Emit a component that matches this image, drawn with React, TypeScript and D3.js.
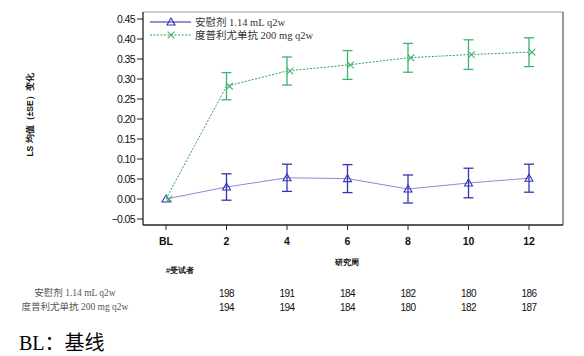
import React from "react";
import * as d3 from "d3";

const categories = ["BL", "2", "4", "6", "8", "10", "12"];
const placeboMean = [0, 0.03, 0.053, 0.051, 0.025, 0.04, 0.052];
const placeboSE = [0, 0.033, 0.034, 0.035, 0.035, 0.037, 0.035];
const dupiMean = [0, 0.282, 0.32, 0.335, 0.353, 0.361, 0.367];
const dupiSE = [0, 0.034, 0.035, 0.036, 0.036, 0.037, 0.036];
const yTicks = [-0.05, 0, 0.05, 0.1, 0.15, 0.2, 0.25, 0.3, 0.35, 0.4, 0.45];
const seriesNames = ["安慰剂 1.14 mL q2w", "度普利尤单抗 200 mg q2w"];
const placeboN = [198, 191, 184, 182, 180, 186];
const dupiN = [194, 194, 184, 180, 182, 187];
const nWeeks = ["2", "4", "6", "8", "10", "12"];

const BLUE = "#3434b4";
const BLUE_LINE = "#8a8ad6";
const GREEN = "#3cb46e";
const GREEN_LINE = "#2aa060";
const SANS = "Liberation Sans, Arial, sans-serif";
const SERIF = "Liberation Serif, 'Noto Sans CJK SC', serif";

function Tri({ x, y }: { x: number; y: number }) {
  const s = 4;
  return (
    <path
      d={`M${x},${y - s} L${x + s},${y + s * 0.75} L${x - s},${y + s * 0.75} Z`}
      fill="none"
      stroke={BLUE}
      strokeWidth={1.1}
    />
  );
}
function Cross({ x, y }: { x: number; y: number }) {
  const s = 3.3;
  return (
    <path
      d={`M${x - s},${y - s} L${x + s},${y + s} M${x - s},${y + s} L${x + s},${y - s}`}
      stroke={GREEN}
      strokeWidth={1.1}
    />
  );
}

export default function App() {
  const left = 143, right = 563, top = 12, bottom = 225;
  const x = d3.scalePoint<string>().domain(categories).range([166, 529]);
  const y = d3.scaleLinear().domain([-0.05, 0.45]).range([219, 19]);
  const fmt = d3.format(".2f");

  const line = d3
    .line<number>()
    .x((_, i) => x(categories[i])!)
    .y((d) => y(d));

  const errBars = (means: number[], se: number[], color: string) =>
    means.map((m, i) => {
      if (se[i] === 0) return null;
      const cx = x(categories[i])!;
      const y1 = y(m + se[i]);
      const y2 = y(m - se[i]);
      return (
        <g key={i} stroke={color} strokeWidth={1.3}>
          <line x1={cx} x2={cx} y1={y1} y2={y2} />
          <line x1={cx - 5} x2={cx + 5} y1={y1} y2={y1} />
          <line x1={cx - 5} x2={cx + 5} y1={y2} y2={y2} />
        </g>
      );
    });

  return (
    <svg
      width={584}
      height={356}
      style={{ position: "absolute", left: 0, top: 0, background: "#fff" }}
    >
      {/* frame */}
      <line x1={left} x2={right} y1={top} y2={top} stroke="#999" strokeWidth={1} />
      <line x1={right} x2={right} y1={top} y2={bottom} stroke="#777" strokeWidth={1.5} />
      <line x1={left} x2={left} y1={top} y2={bottom} stroke="#222" strokeWidth={1.3} />
      <line x1={left} x2={right} y1={bottom} y2={bottom} stroke="#222" strokeWidth={1.3} />

      {/* y ticks */}
      {yTicks.map((t) => (
        <g key={t}>
          <line x1={left - 6} x2={left} y1={y(t)} y2={y(t)} stroke="#222" strokeWidth={1} />
          <text
            x={left - 8}
            y={y(t)}
            dy="0.35em"
            textAnchor="end"
            fontFamily={SANS}
            fontSize={10.5}
            letterSpacing={-0.6}
            fill="#111"
          >
            {fmt(t)}
          </text>
        </g>
      ))}

      {/* x ticks */}
      {categories.map((c) => (
        <g key={c}>
          <line x1={x(c)!} x2={x(c)!} y1={bottom} y2={bottom + 5} stroke="#222" strokeWidth={1} />
          <text
            x={x(c)!}
            y={245}
            textAnchor="middle"
            fontFamily={SANS}
            fontSize={10.5}
            fontWeight="bold"
            fill="#111"
          >
            {c}
          </text>
        </g>
      ))}

      {/* y label */}
      <text
        transform="translate(33,115) rotate(-90)"
        textAnchor="middle"
        fontFamily={SANS}
        fontSize={8.5}
        fontWeight="bold"
        fill="#111"
      >
        LS 均值（±SE）变化
      </text>

      {/* lines */}
      <path d={line(placeboMean)!} fill="none" stroke={BLUE_LINE} strokeWidth={1} />
      <path
        d={line(dupiMean)!}
        fill="none"
        stroke={GREEN_LINE}
        strokeWidth={1}
        strokeDasharray="2,1.5"
      />
      {errBars(placeboMean, placeboSE, BLUE)}
      {errBars(dupiMean, dupiSE, GREEN)}
      {placeboMean.map((m, i) => (
        <Tri key={i} x={x(categories[i])!} y={y(m)} />
      ))}
      {dupiMean.map((m, i) => (
        <Cross key={i} x={x(categories[i])! + 3} y={y(m)} />
      ))}

      {/* legend */}
      <line x1={150} x2={191} y1={22} y2={22} stroke="#1e2a9a" strokeWidth={1.2} />
      <Tri x={171} y={22} />
      <text x={195} y={22} dy="0.35em" fontFamily={SERIF} fontSize={10.5} fill="#333">
        {seriesNames[0]}
      </text>
      <line x1={150} x2={191} y1={35} y2={35} stroke={GREEN_LINE} strokeWidth={1} strokeDasharray="2,1.5" />
      <Cross x={171} y={35} />
      <text x={195} y={35} dy="0.35em" fontFamily={SERIF} fontSize={10.5} fill="#333">
        {seriesNames[1]}
      </text>

      {/* axis title and table */}
      <text x={347} y={265} textAnchor="middle" fontFamily={SANS} fontSize={8} fontWeight="bold" fill="#111">
        研究周
      </text>
      <text x={180} y={273} textAnchor="middle" fontFamily={SANS} fontSize={8} fontWeight="bold" fill="#111">
        #受试者
      </text>
      <text x={75} y={296} textAnchor="middle" fontFamily={SERIF} fontSize={9.5} fill="#555">
        {seriesNames[0]}
      </text>
      <text x={75} y={310} textAnchor="middle" fontFamily={SERIF} fontSize={9.5} fill="#555">
        {seriesNames[1]}
      </text>
      {nWeeks.map((w, i) => (
        <g key={w}>
          <text x={x(w)!} y={297} textAnchor="middle" fontFamily={SANS} fontSize={10} letterSpacing={-0.6} fill="#111">
            {placeboN[i]}
          </text>
          <text x={x(w)!} y={311} textAnchor="middle" fontFamily={SANS} fontSize={10} letterSpacing={-0.6} fill="#111">
            {dupiN[i]}
          </text>
        </g>
      ))}

      <text x={19} y={350} fontFamily={SERIF} fontSize={20} fill="#000">
        BL：基线
      </text>
    </svg>
  );
}
